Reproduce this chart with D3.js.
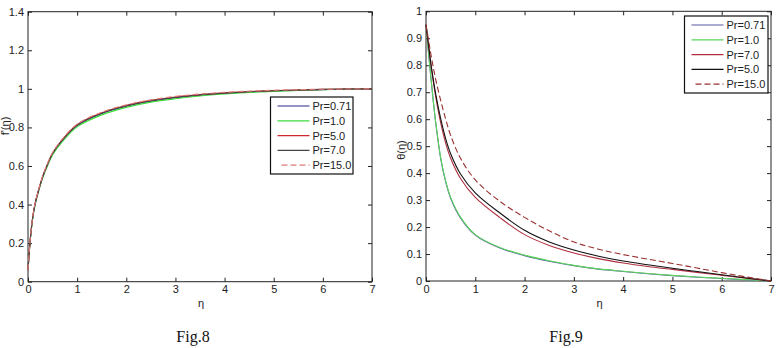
<!DOCTYPE html>
<html>
<head>
<meta charset="utf-8">
<script src="https://cdn.jsdelivr.net/npm/d3@7"></script>
<style>
  body { margin: 0; background: #fff; }
  svg text { font-family: "Liberation Sans", Arial, sans-serif; fill: #222; }
  .caption { font-family: "Liberation Serif", "Times New Roman", serif !important; font-size: 16px; fill: #111; }
</style>
</head>
<body>
<svg id="chart"></svg>
<script>
// shared eta grid
const eta = [0, 0.05, 0.1, 0.15, 0.2, 0.3, 0.4, 0.5, 0.7, 1, 1.5, 2, 2.5, 3, 3.5, 4, 4.5, 5, 5.5, 6, 6.5, 7];

// Fig.8  f'(eta)
const fPr071 = [0.06, 0.228, 0.338, 0.408, 0.458, 0.543, 0.608, 0.663, 0.733, 0.81, 0.872, 0.91, 0.936, 0.954, 0.967, 0.977, 0.984, 0.989, 0.993, 0.996, 0.999, 1.0];
const fPr1 = [0.06, 0.226, 0.335, 0.404, 0.454, 0.538, 0.602, 0.657, 0.726, 0.803, 0.865, 0.904, 0.931, 0.949, 0.963, 0.973, 0.981, 0.987, 0.992, 0.996, 0.998, 1.0];
const fPr5 = [0.06, 0.232, 0.342, 0.412, 0.462, 0.547, 0.612, 0.667, 0.737, 0.814, 0.876, 0.914, 0.94, 0.958, 0.97, 0.979, 0.986, 0.991, 0.994, 0.997, 0.999, 1.0];
const fPr7 = [0.06, 0.23, 0.34, 0.41, 0.46, 0.545, 0.61, 0.665, 0.735, 0.812, 0.874, 0.912, 0.938, 0.956, 0.969, 0.978, 0.985, 0.99, 0.994, 0.997, 0.999, 1.0];
const fPr15 = [0.06, 0.233, 0.344, 0.414, 0.464, 0.55, 0.615, 0.67, 0.74, 0.817, 0.879, 0.917, 0.943, 0.961, 0.973, 0.982, 0.988, 0.993, 0.996, 0.998, 0.999, 1.0];

// Fig.9  theta(eta)
const tPr071 = [0.95, 0.848, 0.752, 0.662, 0.582, 0.452, 0.367, 0.307, 0.234, 0.17, 0.122, 0.094, 0.073, 0.057, 0.044, 0.035, 0.027, 0.02, 0.014, 0.009, 0.004, 0.0];
const tPr1 = [0.95, 0.85, 0.755, 0.665, 0.585, 0.455, 0.37, 0.31, 0.237, 0.172, 0.124, 0.096, 0.075, 0.058, 0.045, 0.036, 0.028, 0.021, 0.015, 0.01, 0.005, 0.0];
const tPr7 = [0.95, 0.875, 0.8, 0.737, 0.68, 0.585, 0.51, 0.455, 0.38, 0.31, 0.235, 0.172, 0.132, 0.104, 0.083, 0.067, 0.054, 0.043, 0.032, 0.021, 0.01, 0.0];
const tPr5 = [0.95, 0.877, 0.805, 0.745, 0.69, 0.6, 0.527, 0.472, 0.397, 0.327, 0.252, 0.188, 0.145, 0.115, 0.092, 0.074, 0.06, 0.047, 0.035, 0.023, 0.011, 0.0];
const tPr15 = [0.95, 0.895, 0.84, 0.79, 0.745, 0.668, 0.6, 0.54, 0.455, 0.375, 0.295, 0.236, 0.186, 0.145, 0.118, 0.098, 0.081, 0.065, 0.048, 0.031, 0.015, 0.0];

const xTicks = [0, 1, 2, 3, 4, 5, 6, 7];
const yTicksF = [0, 0.2, 0.4, 0.6, 0.8, 1, 1.2, 1.4];
const yTicksT = [0, 0.1, 0.2, 0.3, 0.4, 0.5, 0.6, 0.7, 0.8, 0.9, 1];

const legendF = ["Pr=0.71", "Pr=1.0", "Pr=5.0", "Pr=7.0", "Pr=15.0"];
const legendT = ["Pr=0.71", "Pr=1.0", "Pr=7.0", "Pr=5.0", "Pr=15.0"];

let svg = d3.select("svg#chart").attr("width", 778).attr("height", 348);

function drawPanel(conf) {
    let x = d3.scaleLinear().domain([0, 7]).range([conf.left, conf.right]);
    let y = d3.scaleLinear().domain([0, conf.ymax]).range([conf.bottom, conf.top]);
    let g = svg.append("g");
    let fmt = (d) => String(+d.toFixed(2));

    // box
    g.append("rect")
        .attr("x", conf.left).attr("y", conf.top)
        .attr("width", conf.right - conf.left).attr("height", conf.bottom - conf.top)
        .attr("fill", "#fff").attr("stroke", "#222").attr("stroke-width", 1);

    // axes, ticks pointing inwards (matlab style)
    let axes = [
        [d3.axisBottom(x).tickValues(xTicks).tickFormat(fmt), `translate(0,${conf.bottom})`],
        [d3.axisTop(x).tickValues(xTicks).tickFormat(""), `translate(0,${conf.top})`],
        [d3.axisLeft(y).tickValues(conf.yTicks).tickFormat(fmt), `translate(${conf.left},0)`],
        [d3.axisRight(y).tickValues(conf.yTicks).tickFormat(""), `translate(${conf.right},0)`],
    ];
    axes.forEach(([ax, tr]) => {
        let a = g.append("g").attr("transform", tr)
            .call(ax.tickSizeInner(-4).tickSizeOuter(0).tickPadding(4));
        a.select(".domain").remove();
        a.selectAll("line").attr("stroke", "#222");
        a.selectAll("text").style("font-size", "11px").attr("fill", "#222");
    });

    let line = d3.line()
        .x((d) => x(d[0]))
        .y((d) => y(d[1]))
        .curve(d3.curveCatmullRom.alpha(0.5));

    conf.series.forEach((s) => {
        g.append("path")
            .datum(eta.map((e, i) => [e, s.values[i]]))
            .attr("d", line)
            .attr("fill", "none")
            .attr("stroke", s.color)
            .attr("stroke-width", 1.1)
            .attr("stroke-dasharray", s.dash ? "6 3" : null);
    });

    // legend
    let lg = g.append("g");
    lg.append("rect")
        .attr("x", conf.legend.x).attr("y", conf.legend.y)
        .attr("width", conf.legend.w).attr("height", conf.legend.h)
        .attr("fill", "#fff").attr("stroke", "#111").attr("stroke-width", 1.2);
    conf.series.forEach((s, i) => {
        let ly = conf.legend.y + 9 + i * 14.8;
        lg.append("line")
            .attr("x1", conf.legend.x + (s.dash ? 11 : 7))
            .attr("x2", conf.legend.x + 39)
            .attr("y1", ly).attr("y2", ly)
            .attr("stroke", s.color).attr("stroke-width", 1.2)
            .attr("stroke-dasharray", s.dash ? "6 3" : null);
        lg.append("text")
            .attr("x", conf.legend.x + 42).attr("y", ly + 4)
            .style("font-size", "11px")
            .text(conf.labels[i]);
    });

    // axis labels
    g.append("text")
        .attr("x", (conf.left + conf.right) / 2 + 1).attr("y", 307)
        .attr("text-anchor", "middle").style("font-size", "11px")
        .text("η");
    g.append("text")
        .attr("transform", `translate(${conf.ylabelX},${conf.ylabelY}) rotate(-90)`)
        .attr("text-anchor", "middle").style("font-size", "11px")
        .text(conf.ylabel);

    g.append("text")
        .attr("class", "caption")
        .attr("x", conf.captionX).attr("y", 342)
        .attr("text-anchor", "middle")
        .text(conf.caption);
}

drawPanel({
    left: 28, right: 372, top: 11.7, bottom: 281.7, ymax: 1.4,
    yTicks: yTicksF,
    series: [
        { values: fPr071, color: "#2b2b8a" },
        { values: fPr1, color: "#3ddc3d" },
        { values: fPr5, color: "#d02828" },
        { values: fPr7, color: "#444444" },
        { values: fPr15, color: "#e07a7a", dash: true },
    ],
    labels: legendF,
    legend: { x: 270.5, y: 97, w: 82.5, h: 77 },
    ylabel: "f'(η)", ylabelX: 9, ylabelY: 126,
    caption: "Fig.8", captionX: 193,
});

drawPanel({
    left: 426, right: 771, top: 11.3, bottom: 281, ymax: 1,
    yTicks: yTicksT,
    series: [
        { values: tPr071, color: "#5a5aa8" },
        { values: tPr1, color: "#5cd65c" },
        { values: tPr7, color: "#b03040" },
        { values: tPr5, color: "#111111" },
        { values: tPr15, color: "#9a3030", dash: true },
    ],
    labels: legendT,
    legend: { x: 684.5, y: 16, w: 83.5, h: 77 },
    ylabel: "θ(η)", ylabelX: 405, ylabelY: 150,
    caption: "Fig.9", captionX: 566,
});
</script>
</body>
</html>
